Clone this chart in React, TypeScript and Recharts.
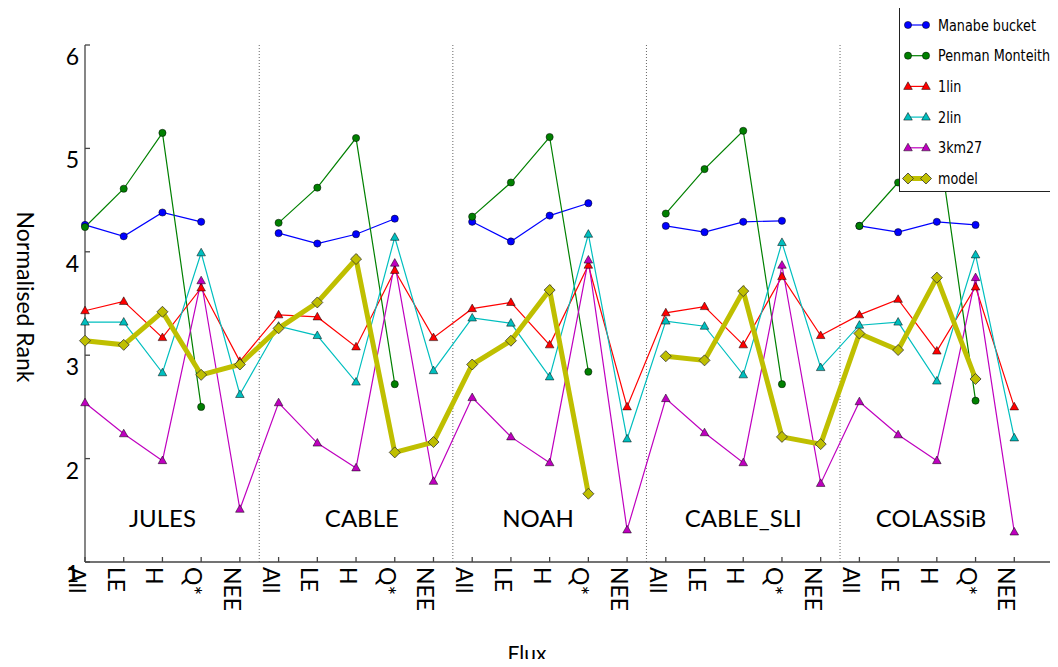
import { LineChart, Line, XAxis, YAxis, ReferenceLine, ReferenceDot } from 'recharts';

const fluxes = ['All', 'LE', 'H', 'Q*', 'NEE'];
const landModels = ['JULES', 'CABLE', 'NOAH', 'CABLE_SLI', 'COLASSiB'];
const groupLabelX = [2.0, 7.15, 11.7, 17.0, 21.85];
const groupLabelY = 1.34;
const separators = [4.5, 9.5, 14.5, 19.5];
const yTicks = [1, 2, 3, 4, 5, 6];

// one value per flux, five fluxes per land model (JULES, CABLE, NOAH, CABLE_SLI, COLASSiB)
const manabeBucket = [
  4.26, 4.15, 4.38, 4.29, null,
  4.18, 4.08, 4.17, 4.32, null,
  4.29, 4.10, 4.35, 4.47, null,
  4.25, 4.19, 4.29, 4.30, null,
  4.25, 4.19, 4.29, 4.26, null,
];
const penmanMonteith = [
  4.24, 4.61, 5.15, 2.50, null,
  4.28, 4.62, 5.10, 2.72, null,
  4.34, 4.67, 5.11, 2.84, null,
  4.37, 4.80, 5.17, 2.72, null,
  4.25, 4.67, 5.17, 2.56, null,
];
const lin1 = [
  3.43, 3.52, 3.17, 3.65, 2.94,
  3.39, 3.37, 3.08, 3.82, 3.17,
  3.45, 3.51, 3.10, 3.87, 2.50,
  3.41, 3.47, 3.10, 3.76, 3.19,
  3.39, 3.54, 3.04, 3.66, 2.50,
];
const lin2 = [
  3.32, 3.32, 2.83, 3.99, 2.62,
  3.28, 3.19, 2.74, 4.14, 2.85,
  3.36, 3.31, 2.79, 4.17, 2.19,
  3.33, 3.28, 2.81, 4.09, 2.88,
  3.29, 3.32, 2.75, 3.97, 2.20,
];
const km27 = [
  2.54, 2.24, 1.98, 3.72, 1.51,
  2.54, 2.15, 1.91, 3.89, 1.78,
  2.59, 2.21, 1.96, 3.92, 1.31,
  2.58, 2.25, 1.96, 3.87, 1.76,
  2.55, 2.23, 1.98, 3.75, 1.29,
];
const model = [
  3.14, 3.10, 3.42, 2.81, 2.91,
  3.26, 3.51, 3.93, 2.06, 2.16,
  2.91, 3.14, 3.63, 1.66, null,
  2.99, 2.95, 3.62, 2.21, 2.14,
  3.21, 3.05, 3.75, 2.77, null,
];

const series = [
  { key: 'manabe', name: 'Manabe bucket', color: '#0000ff', marker: 'circle', width: 1.2 },
  { key: 'penman', name: 'Penman Monteith', color: '#008000', marker: 'circle', width: 1.2 },
  { key: 'lin1', name: '1lin', color: '#ff0000', marker: 'triangle', width: 1.2 },
  { key: 'lin2', name: '2lin', color: '#00bfbf', marker: 'triangle', width: 1.2 },
  { key: 'km27', name: '3km27', color: '#bf00bf', marker: 'triangle', width: 1.2 },
  { key: 'model', name: 'model', color: '#bfbf00', marker: 'diamond', width: 5 },
];

const data = manabeBucket.map((_, i) => ({
  idx: i,
  manabe: manabeBucket[i],
  penman: penmanMonteith[i],
  lin1: lin1[i],
  lin2: lin2[i],
  km27: km27[i],
  model: model[i],
}));

const xTicks = data.map((d) => d.idx);

const font = 'Lato, "Open Sans", sans-serif';
const frame = { stroke: '#444', strokeWidth: 1.3 };

function Marker({ cx, cy, kind, color }: any) {
  if (cx == null || cy == null) return <g />;
  if (kind === 'circle') {
    return <circle cx={cx} cy={cy} r={3.6} fill={color} stroke="#000" strokeWidth={0.5} />;
  }
  if (kind === 'triangle') {
    return (
      <polygon
        points={`${cx},${cy - 4.6} ${cx + 4.3},${cy + 3} ${cx - 4.3},${cy + 3}`}
        fill={color}
        stroke="#000"
        strokeWidth={0.5}
      />
    );
  }
  return (
    <polygon
      points={`${cx},${cy - 5.5} ${cx + 5.5},${cy} ${cx},${cy + 5.5} ${cx - 5.5},${cy}`}
      fill={color}
      stroke="#333"
      strokeWidth={0.8}
    />
  );
}

function FluxTick({ x, payload }: any) {
  return (
    <text
      transform={`translate(${x - 16}, 567) rotate(90)`}
      fontSize={23}
      fontFamily={font}
      fill="#000"
    >
      {fluxes[payload.value % fluxes.length]}
    </text>
  );
}

function RankTick({ y, payload }: any) {
  return (
    <text x={79} y={y + 11} textAnchor="end" dominantBaseline="central" fontSize={23} fontFamily={font} fill="#000">
      {payload.value}
    </text>
  );
}

function Legend() {
  return (
    <div
      style={{
        position: 'absolute',
        left: 899,
        top: 7,
        width: 154,
        height: 185,
        border: '1.3px solid #222',
        background: '#fff',
        boxSizing: 'border-box',
      }}
    >
      <svg width={152} height={183}>
        {series.map((s, i) => {
          const y = 17 + i * 30.7;
          return (
            <g key={s.key}>
              <line x1={8} x2={26} y1={y} y2={y} stroke={s.color} strokeWidth={s.width} />
              <Marker cx={8} cy={y} kind={s.marker} color={s.color} />
              <Marker cx={26} cy={y} kind={s.marker} color={s.color} />
              <text
                transform={`translate(38, ${y}) scale(0.8, 1)`}
                dominantBaseline="central"
                fontSize={16}
                fontFamily='"DejaVu Sans", sans-serif'
                fill="#000"
              >
                {s.name}
              </text>
            </g>
          );
        })}
      </svg>
    </div>
  );
}

export default function App() {
  return (
    <div
      style={{
        position: 'relative',
        width: 1058,
        height: 667,
        margin: '-8px 0 -8px -8px',
        background: '#fff',
        overflow: 'hidden',
      }}
    >
      <LineChart width={1058} height={667} data={data} margin={{ top: 45, right: 5, bottom: 45, left: 0 }}>
        <XAxis
          type="number"
          dataKey="idx"
          domain={[0, 25]}
          ticks={xTicks}
          interval={0}
          height={60}
          tickSize={-5}
          tickLine={frame}
          axisLine={frame}
          tick={(p: any) => <FluxTick {...p} />}
        />
        <XAxis
          xAxisId="top"
          orientation="top"
          type="number"
          domain={[0, 25]}
          ticks={xTicks}
          interval={0}
          height={0}
          tickSize={-5}
          tickLine={frame}
          axisLine={frame}
          tick={() => <g />}
        />
        <YAxis
          type="number"
          domain={[1, 6]}
          ticks={yTicks}
          interval={0}
          width={85}
          tickSize={-5}
          tickLine={frame}
          axisLine={frame}
          tick={(p: any) => <RankTick {...p} />}
        />
        <YAxis
          yAxisId="right"
          orientation="right"
          type="number"
          domain={[1, 6]}
          ticks={yTicks}
          interval={0}
          width={0}
          tickSize={-5}
          tickLine={frame}
          axisLine={frame}
          tick={() => <g />}
        />
        {separators.map((x) => (
          <ReferenceLine key={x} x={x} stroke="#666" strokeWidth={1} strokeDasharray="1 2" />
        ))}
        {landModels.map((name, i) => (
          <ReferenceDot
            key={name}
            x={groupLabelX[i]}
            y={groupLabelY}
            r={0}
            shape={(p: any) => (
              <text x={p.cx} y={p.cy} textAnchor="middle" fontSize={24} fontFamily={font} fill="#000">
                {name}
              </text>
            )}
          />
        ))}
        {series.map((s) => (
          <Line
            key={s.key}
            dataKey={s.key}
            name={s.name}
            type="linear"
            stroke={s.color}
            strokeWidth={s.width}
            isAnimationActive={false}
            dot={(p: any) => <Marker key={`${s.key}-${p.index}`} cx={p.cx} cy={p.cy} kind={s.marker} color={s.color} />}
            activeDot={false}
          />
        ))}
      </LineChart>
      <svg
        width={1058}
        height={667}
        style={{ position: 'absolute', left: 0, top: 0, pointerEvents: 'none' }}
      >
        <text transform="translate(17, 297) rotate(90)" textAnchor="middle" fontSize={23} fontFamily={font} fill="#000">
          Normalised Rank
        </text>
        <text x={527} y={661} textAnchor="middle" fontSize={21} fontFamily={font} fill="#000">
          Flux
        </text>
      </svg>
      <Legend />
    </div>
  );
}
